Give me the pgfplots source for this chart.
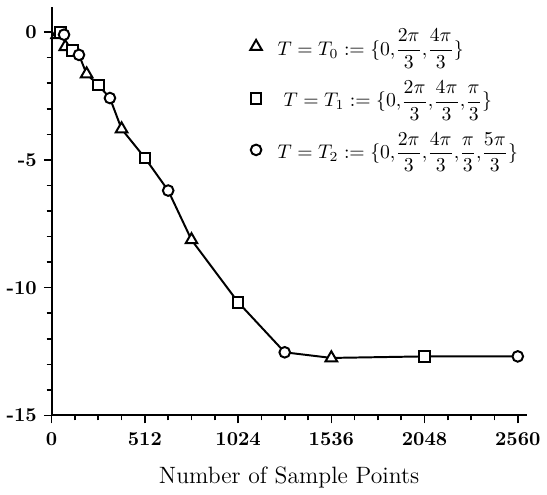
\documentclass[border=0pt]{standalone}
\usepackage{pgfplots}
\usepackage{amsmath}
\pgfplotsset{compat=1.18}
\begin{document}
\begin{tikzpicture}
\begin{axis}[
  width=241pt, height=207.5pt, scale only axis,
  xmin=0, xmax=2608, ymin=-15, ymax=1,
  axis lines=left, axis line style={line width=1pt, -},
  xtick={0,512,1024,1536,2048,2560}, xticklabels={0,512,1024,1536,2048,2560},
  minor xtick={128,256,384,640,768,896,1152,1280,1408,1664,1792,1920,2176,2304,2432},
  ytick={-15,-10,-5,0}, yticklabels={-15,-10,-5,0},
  minor ytick={-14,-13,-12,-11,-9,-8,-7,-6,-4,-3,-2,-1},
  tick align=outside,
  major tick length=4pt, minor tick length=2.5pt,
  every tick/.style={line width=0.8pt, black},
  xticklabel style={font=\bfseries, yshift=-1pt},
  yticklabel style={font=\bfseries},
  xlabel={Number of Sample Points},
  xlabel style={yshift=-4pt, font=\large},
  clip=false,
  legend style={at={(0.405,0.965)}, anchor=north west, draw=none, fill=none,
    row sep=7.5pt, font=\normalsize, legend cell align=left,
    nodes={inner xsep=2pt}},
  legend image code/.code={\draw[#1] plot coordinates {(0.3cm,-1.5pt)};},
]
\path (rel axis cs:-0.1088,-0.1766) rectangle (rel axis cs:1.0249,1.0161);
\addplot[black, line width=1pt, forget plot] coordinates {
 (30,-0.1) (50,-0.02) (68,-0.1) (75,-0.57) (116,-0.72) (150,-0.89)
 (192,-1.64) (256,-2.07) (320,-2.58) (384,-3.79) (512,-4.92) (640,-6.20)
 (768,-8.13) (1024,-10.57) (1280,-12.53) (1536,-12.75) (2048,-12.69) (2560,-12.69)};
\addplot[only marks, mark=triangle*, mark size=3.4pt, mark options={fill=white, draw=black, line width=1pt}]
 coordinates {(30,-0.1) (75,-0.57) (192,-1.64) (384,-3.79) (768,-8.13) (1536,-12.75)};
\addlegendentry{\hspace{6pt}$T = T_0 := \{0{,}\dfrac{2\pi}{3}{,}\dfrac{4\pi}{3}\}$}
\addplot[only marks, mark=square*, mark size=2.7pt, mark options={fill=white, draw=black, line width=1pt}]
 coordinates {(50,-0.02) (116,-0.72) (256,-2.07) (512,-4.92) (1024,-10.57) (2048,-12.69)};
\addlegendentry{\hspace{9pt}$T = T_1 := \{0{,}\dfrac{2\pi}{3}{,}\dfrac{4\pi}{3}{,}\dfrac{\pi}{3}\}$}
\addplot[only marks, mark=*, mark size=2.7pt, mark options={fill=white, draw=black, line width=1pt}]
 coordinates {(68,-0.1) (150,-0.89) (320,-2.58) (640,-6.20) (1280,-12.53) (2560,-12.69)};
\addlegendentry{\hspace{6pt}$T = T_2 := \{0{,}\dfrac{2\pi}{3}{,}\dfrac{4\pi}{3}{,}\dfrac{\pi}{3}{,}\dfrac{5\pi}{3}\}$}
\end{axis}
\end{tikzpicture}
\end{document}
